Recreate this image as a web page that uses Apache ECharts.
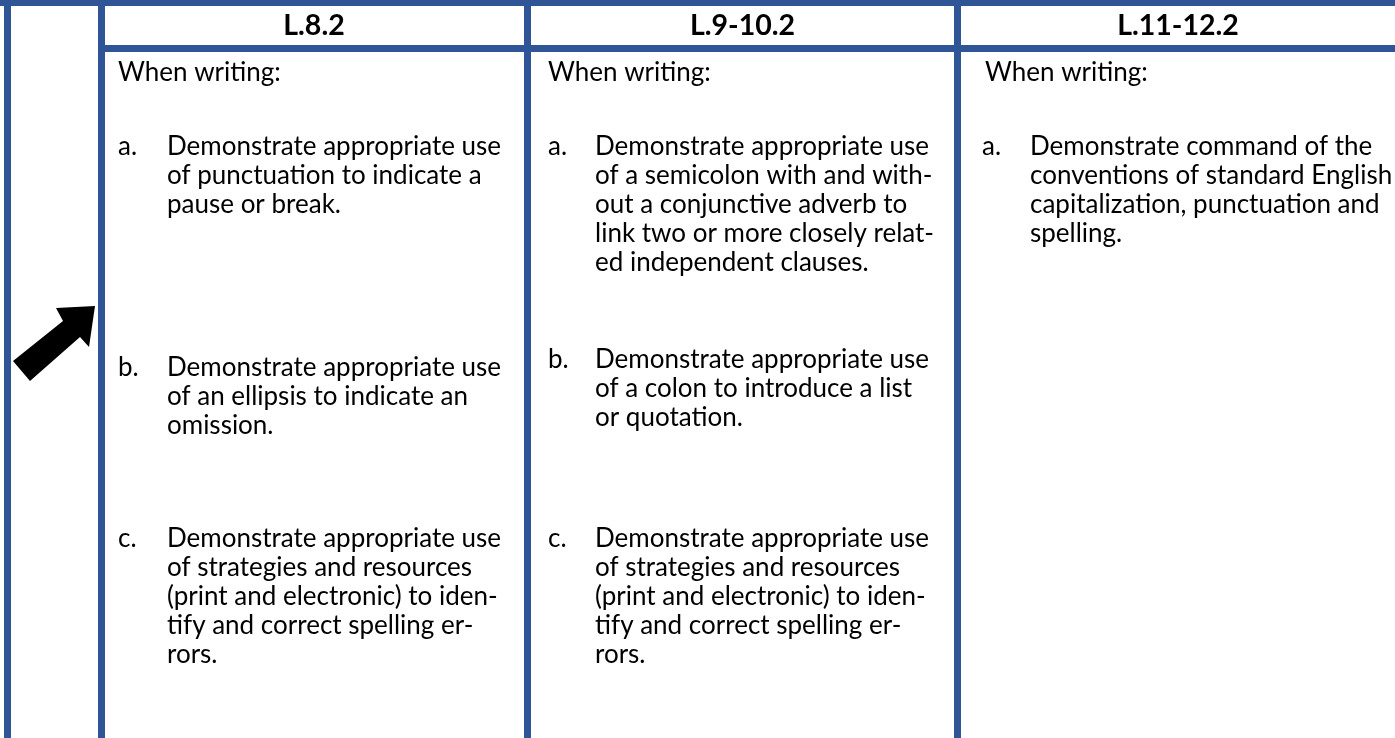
<!DOCTYPE html>
<html>
<head>
<meta charset="utf-8">
<script src="https://cdn.jsdelivr.net/npm/echarts@6/dist/echarts.min.js"></script>
<style>
html,body{margin:0;padding:0;background:#fff;}
#chart{width:1395px;height:738px;}
</style>
</head>
<body>
<div id="chart"></div>
<script>
// ---- table content ----
var headers = ['L.8.2', 'L.9-10.2', 'L.11-12.2'];
var intro = ['When writing:', 'When writing:', 'When writing:'];
var col1Items = [
  ['a.', ['Demonstrate appropriate use', 'of punctuation to indicate a', 'pause or break.']],
  ['b.', ['Demonstrate appropriate use', 'of an ellipsis to indicate an', 'omission.']],
  ['c.', ['Demonstrate appropriate use', 'of strategies and resources', '(print and electronic) to iden-', 'tify and correct spelling er-', 'rors.']]
];
var col2Items = [
  ['a.', ['Demonstrate appropriate use', 'of a semicolon with and with-', 'out a conjunctive adverb to', 'link two or more closely relat-', 'ed independent clauses.']],
  ['b.', ['Demonstrate appropriate use', 'of a colon to introduce a list', 'or quotation.']],
  ['c.', ['Demonstrate appropriate use', 'of strategies and resources', '(print and electronic) to iden-', 'tify and correct spelling er-', 'rors.']]
];
var col3Items = [
  ['a.', ['Demonstrate command of the', 'conventions of standard English', 'capitalization, punctuation and', 'spelling.']]
];
var columnItems = [col1Items, col2Items, col3Items];

// ---- layout (styles / positions) ----
var BLUE = '#2F5597';
var FONT = 'Lato';
function fitSize(text, target, weight) {
  var c = document.createElement('canvas').getContext('2d');
  c.font = (weight || 'normal') + ' 100px ' + FONT;
  return Math.round(target / c.measureText(text).width * 1000) / 10;
}
var bodySize = fitSize('Demonstrate appropriate use', 334);
var headSize = fitSize('L.9-10.2', 105, 'bold');
var LH = 29;
var colLeft = [104, 531, 961];
var colRight = [524, 954, 1395];
var labelX = [118, 548, 982];
var textX = [167, 595, 1030];
var introX = [118, 548, 985];
var itemTop = [
  [147, 368, 539],
  [147, 360, 539],
  [147]
];

var g = [];
// borders
function rect(x, y, w, h) {
  g.push({type: 'rect', shape: {x: x, y: y, width: w, height: h}, style: {fill: BLUE}, z: 10});
}
rect(0, 0, 1395, 6);
rect(4, 0, 7, 738);
rect(98, 0, 7, 738);
rect(524, 0, 7, 738);
rect(954, 0, 7, 738);
rect(98, 45, 1297, 7);

// arrow
g.push({
  type: 'polygon',
  shape: {points: [[95, 306], [56, 308], [63, 321], [13, 361], [30, 381], [80, 337], [89, 347]]},
  style: {fill: '#000'}, z: 5
});

function txt(x, y, s, size, weight, align) {
  g.push({
    type: 'text', x: x, y: y, z: 20,
    style: {
      text: s, fill: '#000', font: (weight || 'normal') + ' ' + size + 'px ' + FONT,
      fontSize: size, fontFamily: FONT, fontWeight: weight || 'normal',
      textAlign: align || 'left', textVerticalAlign: 'middle', lineHeight: LH
    }
  });
}

headers.forEach(function (h, i) {
  txt((colLeft[i] + colRight[i]) / 2, 26, h, headSize, 'bold', 'center');
  txt(introX[i], 73, intro[i], bodySize);
  columnItems[i].forEach(function (it, k) {
    var top = itemTop[i][k];
    txt(labelX[i], top, it[0], bodySize);
    it[1].forEach(function (line, j) {
      txt(textX[i], top + j * LH, line, bodySize);
    });
  });
});

var chart = echarts.init(document.getElementById('chart'), null, {renderer: 'canvas'});
chart.setOption({
  backgroundColor: '#fff',
  animation: false,
  graphic: {elements: g}
});
</script>
</body>
</html>
